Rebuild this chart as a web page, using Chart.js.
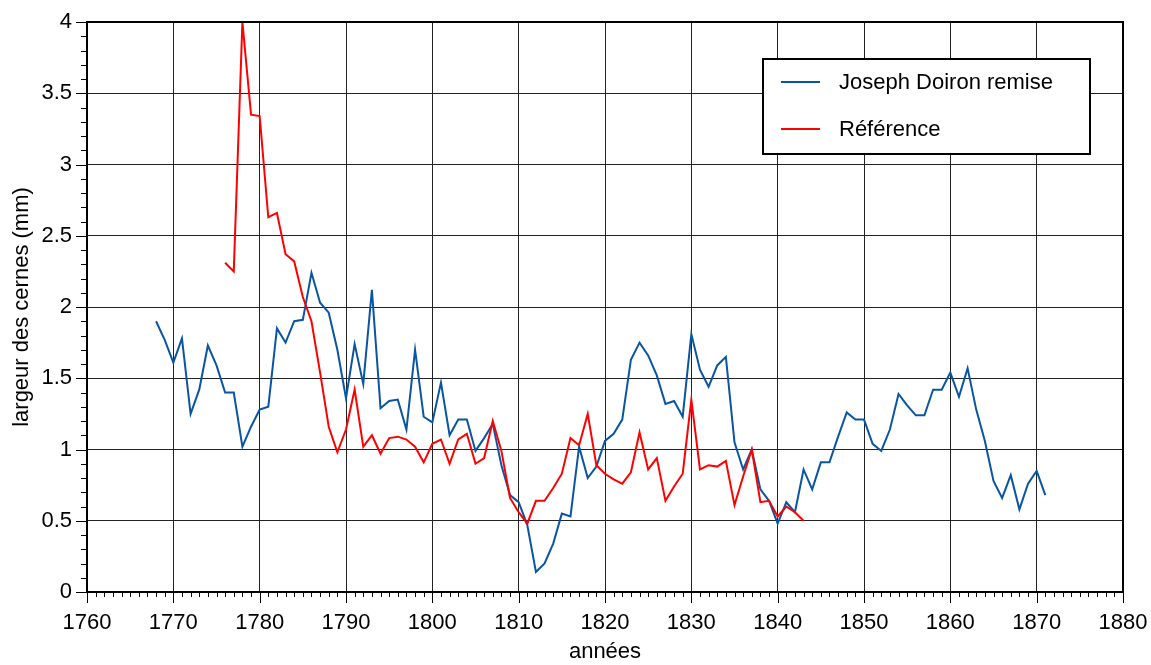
<!DOCTYPE html>
<html>
<head>
<meta charset="utf-8">
<script src="https://cdn.jsdelivr.net/npm/chart.js@4/dist/chart.umd.min.js"></script>
<style>
  html, body { margin: 0; padding: 0; background: #fff; }
  #wrap { width: 1151px; height: 665px; position: relative; }
</style>
</head>
<body>
<div id="wrap"><canvas id="chart"></canvas></div>
<script>
// ring widths (mm), one value per year
const doironStart = 1768;
const doironValues = [
    1.90, 1.77, 1.61, 1.78, 1.25, 1.42, 1.73, 1.59, 1.40, 1.40,
    1.02, 1.16, 1.28, 1.30, 1.85, 1.75, 1.90, 1.91, 2.24, 2.03,
    1.96, 1.70, 1.36, 1.74, 1.46, 2.12, 1.29, 1.34, 1.35, 1.14,
    1.70, 1.23, 1.19, 1.47, 1.10, 1.21, 1.21, 0.99, 1.08, 1.18,
    0.89, 0.68, 0.63, 0.47, 0.14, 0.20, 0.34, 0.55, 0.53, 1.02,
    0.80, 0.88, 1.06, 1.11, 1.21, 1.63, 1.75, 1.66, 1.52, 1.32,
    1.34, 1.23, 1.81, 1.56, 1.44, 1.59, 1.65, 1.05, 0.86, 1.00,
    0.72, 0.64, 0.48, 0.63, 0.56, 0.86, 0.72, 0.91, 0.91, 1.09,
    1.26, 1.21, 1.21, 1.04, 0.99, 1.14, 1.39, 1.31, 1.24, 1.24,
    1.42, 1.42, 1.54, 1.37, 1.57, 1.28, 1.06, 0.78, 0.66, 0.82,
    0.58, 0.76, 0.85, 0.68
];
const refStart = 1776;
const refValues = [
    2.31, 2.25, 4.00, 3.35, 3.34, 2.63, 2.66, 2.37, 2.32, 2.07,
    1.90, 1.54, 1.16, 0.98, 1.14, 1.42, 1.02, 1.10, 0.97, 1.08,
    1.09, 1.07, 1.02, 0.91, 1.04, 1.07, 0.90, 1.07, 1.11, 0.90,
    0.94, 1.20, 0.99, 0.66, 0.56, 0.48, 0.64, 0.64, 0.73, 0.83,
    1.08, 1.03, 1.25, 0.89, 0.83, 0.79, 0.76, 0.84, 1.12, 0.86,
    0.94, 0.64, 0.74, 0.83, 1.35, 0.86, 0.89, 0.88, 0.92, 0.61,
    0.81, 1.00, 0.63, 0.64, 0.53, 0.60, 0.56, 0.50
];
const seriesNames = ["Joseph Doiron remise", "Référence"];
const seriesColors = ["#0a55a3", "#ff0000"];
const xTitle = "années";
const yTitle = "largeur des cernes (mm)";

const FONT = "'Liberation Sans', Arial, sans-serif";

function toPoints(start, values) {
    return values.map((v, i) => ({ x: start + i, y: v }));
}

// minor ticks, frame and legend box
const frameAndLegend = {
    id: "frameAndLegend",
    afterDraw(chart) {
        const { ctx, chartArea: a, scales } = chart;
        const x = scales.x, y = scales.y;
        ctx.save();
        ctx.strokeStyle = "#000";
        ctx.lineWidth = 1;
        ctx.beginPath();
        for (let yr = 1760; yr <= 1880; yr++) {
            const px = Math.round(x.getPixelForValue(yr)) + 0.5;
            const len = yr % 10 === 0 ? 11 : 5;
            ctx.moveTo(px, a.bottom);
            ctx.lineTo(px, a.bottom + len);
        }
        for (let i = 0; i <= 40; i++) {
            const py = Math.round(y.getPixelForValue(i / 10)) + 0.5;
            const len = i % 5 === 0 ? 11 : 6;
            ctx.moveTo(a.left - len, py);
            ctx.lineTo(a.left, py);
        }
        ctx.stroke();

        ctx.lineWidth = 2;
        ctx.strokeRect(a.left, a.top, a.right - a.left, a.bottom - a.top);

        // legend
        const lx = 763, ly = 59, lw = 327, lh = 95;
        ctx.fillStyle = "#fff";
        ctx.fillRect(lx, ly, lw, lh);
        ctx.strokeRect(lx, ly, lw, lh);
        ctx.font = "22px " + FONT;
        ctx.textBaseline = "middle";
        chart.data.datasets.forEach((ds, i) => {
            const rowY = 82 + i * 47;
            ctx.strokeStyle = ds.borderColor;
            ctx.lineWidth = 2;
            ctx.beginPath();
            ctx.moveTo(781, rowY);
            ctx.lineTo(820, rowY);
            ctx.stroke();
            ctx.fillStyle = "#000";
            ctx.fillText(ds.label, 839, rowY + 1);
        });
        ctx.restore();
    },
};

new Chart(document.getElementById("chart"), {
    type: "line",
    data: {
        datasets: [
            {
                label: seriesNames[0],
                data: toPoints(doironStart, doironValues),
                borderColor: seriesColors[0],
                borderWidth: 2,
                pointRadius: 0,
                tension: 0,
                order: 1,
            },
            {
                label: seriesNames[1],
                data: toPoints(refStart, refValues),
                borderColor: seriesColors[1],
                borderWidth: 2,
                pointRadius: 0,
                tension: 0,
                order: 0,
            },
        ],
    },
    options: {
        responsive: true,
        maintainAspectRatio: false,
        animation: false,
        layout: { padding: { top: 22, right: 28, left: 0, bottom: 0 } },
        plugins: {
            legend: { display: false },
            tooltip: { enabled: false },
        },
        scales: {
            x: {
                type: "linear",
                min: 1760,
                max: 1880,
                afterFit: (s) => {
                    s.height = 73;
                    s.paddingLeft = 0;
                    s.paddingRight = 0;
                },
                border: { display: false },
                grid: { color: "#222", lineWidth: 1, drawTicks: false },
                ticks: {
                    stepSize: 10,
                    padding: 18,
                    color: "#000",
                    font: { family: FONT, size: 22 },
                    callback: (v) => String(v),
                },
                title: {
                    display: true,
                    text: xTitle,
                    color: "#000",
                    font: { family: FONT, size: 22 },
                    padding: 0,
                },
            },
            y: {
                min: 0,
                max: 4,
                afterFit: (s) => {
                    s.width = 87;
                    s.paddingTop = 0;
                    s.paddingBottom = 0;
                },
                border: { display: false },
                grid: { color: "#222", lineWidth: 1, drawTicks: false },
                ticks: {
                    stepSize: 0.5,
                    padding: 15,
                    color: "#000",
                    font: { family: FONT, size: 22 },
                    callback: (v) => String(Math.round(v * 10) / 10),
                },
                title: {
                    display: true,
                    text: yTitle,
                    color: "#000",
                    font: { family: FONT, size: 22 },
                    padding: { top: 9, bottom: 0 },
                },
            },
        },
    },
    plugins: [frameAndLegend],
});
</script>
</body>
</html>
